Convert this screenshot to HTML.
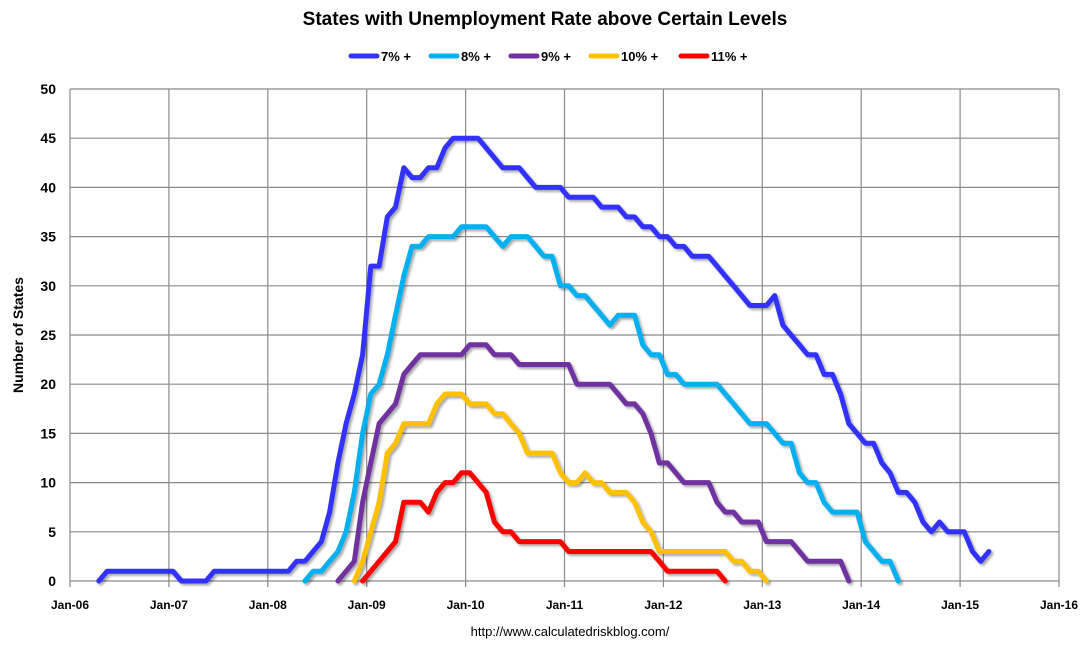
<!DOCTYPE html>
<html><head><meta charset="utf-8"><style>
body{margin:0;background:#fff;}
svg{display:block;font-family:"Liberation Sans",Arial,sans-serif;}
</style></head><body>
<svg id="chart" width="1089" height="649">
<defs><filter id="sh" x="-5%" y="-5%" width="110%" height="110%"><feDropShadow dx="2" dy="2" stdDeviation="1.2" flood-color="#000" flood-opacity="0.35"/></filter></defs>
<text x="545" y="25" text-anchor="middle" font-size="19" font-weight="bold">States with Unemployment Rate above Certain Levels</text>
<g id="grid"></g><g id="axes"></g><g id="legend"></g><g id="lines" filter="url(#sh)"></g>
<text transform="translate(23,335) rotate(-90)" text-anchor="middle" font-size="14" font-weight="bold">Number of States</text>
<text x="570" y="636" text-anchor="middle" font-size="13">http://www.calculatedriskblog.com/</text>
</svg>
<script>
const xLabels=["Jan-06","Jan-07","Jan-08","Jan-09","Jan-10","Jan-11","Jan-12","Jan-13","Jan-14","Jan-15","Jan-16"];
const yTicks=[0,5,10,15,20,25,30,35,40,45,50];
const seriesNames=["7% +","8% +","9% +","10% +","11% +"];
const seriesColors=["#3333ff","#00b0f0","#7030a0","#ffc000","#ff0000"];
const seriesStart=[3,28,32,34,35];
const s7=[0,1,1,1,1,1,1,1,1,1,0,0,0,0,1,1,1,1,1,1,1,1,1,1,2,2,3,4,7,12,16,19,23,32,32,37,38,42,41,41,42,42,44,45,45,45,45,44,43,42,42,42,41,40,40,40,40,39,39,39,39,38,38,38,37,37,36,36,35,35,34,34,33,33,33,32,31,30,29,28,28,28,29,26,25,24,23,23,21,21,19,16,15,14,14,12,11,9,9,8,6,5,6,5,5,5,3,2,3];
const s8=[0,1,1,2,3,5,9,15,19,20,23,27,31,34,34,35,35,35,35,36,36,36,36,35,34,35,35,35,34,33,33,30,30,29,29,28,27,26,27,27,27,24,23,23,21,21,20,20,20,20,20,19,18,17,16,16,16,15,14,14,11,10,10,8,7,7,7,7,4,3,2,2,0];
const s9=[0,1,2,8,12,16,17,18,21,22,23,23,23,23,23,23,24,24,24,23,23,23,22,22,22,22,22,22,22,20,20,20,20,20,19,18,18,17,15,12,12,11,10,10,10,10,8,7,7,6,6,6,4,4,4,4,3,2,2,2,2,2,0];
const s10=[0,2,5,8,13,14,16,16,16,16,18,19,19,19,18,18,18,17,17,16,15,13,13,13,13,11,10,10,11,10,10,9,9,9,8,6,5,3,3,3,3,3,3,3,3,3,2,2,1,1,0];
const s11=[0,1,2,3,4,8,8,8,7,9,10,10,11,11,10,9,6,5,5,4,4,4,4,4,4,3,3,3,3,3,3,3,3,3,3,3,2,1,1,1,1,1,1,1,0];
const seriesData=[s7,s8,s9,s10,s11];
const X0=70,X1=1059,Y0=581,Y1=89;
const xm=m=>X0+(m+0.5)*(X1-X0)/120;
const xg=i=>X0+i*(X1-X0)/10;
const yv=v=>Y0-v*(Y0-Y1)/50;
const NS="http://www.w3.org/2000/svg";
function mk(t,a,p){const e=document.createElementNS(NS,t);for(const k in a)e.setAttribute(k,a[k]);p.appendChild(e);return e;}
const grid=document.getElementById('grid'),axes=document.getElementById('axes');
yTicks.forEach(v=>{
 const l=mk('line',{x1:X0,x2:X1,y1:yv(v),y2:yv(v),stroke:'#8a8a8a','stroke-width':1.2},grid);
 
 
 const t=mk('text',{x:56,y:yv(v)+5,'text-anchor':'end','font-size':14,'font-weight':'bold'},axes);
 t.textContent=v;
 
 
});
xLabels.forEach((s,i)=>{
 const l=mk('line',{x1:xg(i),x2:xg(i),y1:Y1,y2:Y0+6,stroke:'#8a8a8a','stroke-width':1.2},grid);
 
 
 const t=mk('text',{x:xg(i),y:609,'text-anchor':'middle','font-size':12,'font-weight':'bold'},axes);
 t.textContent=s;
 
 
});
const lines=document.getElementById('lines');
seriesData.forEach((d,k)=>{
 const pts=d.map((v,i)=>xm(seriesStart[k]+i).toFixed(1)+','+yv(v).toFixed(1)).join(' ');
 const p=mk('polyline',{points:pts,fill:'none',stroke:seriesColors[k],'stroke-width':5,'stroke-linejoin':'round','stroke-linecap':'round'},lines);
 
 
});
const lg=document.getElementById('legend');
const lx=[351,431,511,591,681];
seriesNames.forEach((n,k)=>{
 const g=mk('g',{},lg);
 
 
 mk('line',{x1:lx[k],x2:lx[k]+26,y1:56,y2:56,stroke:seriesColors[k],'stroke-width':5,'stroke-linecap':'round'},g);
 const t=mk('text',{x:lx[k]+30,y:61,'font-size':13,'font-weight':'bold'},g);
 t.textContent=n;
});
</script>
</body></html>
